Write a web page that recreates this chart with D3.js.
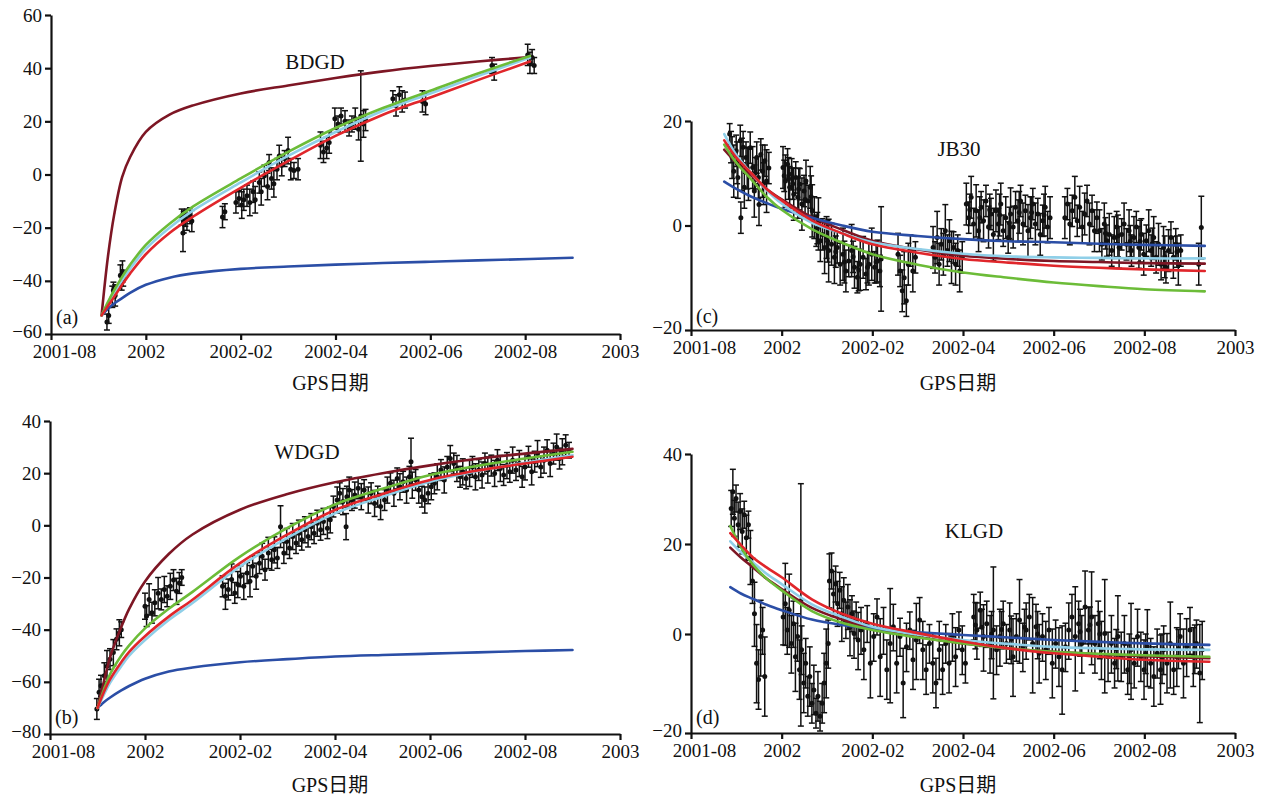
<!DOCTYPE html>
<html>
<head>
<meta charset="utf-8">
<script src="https://cdn.jsdelivr.net/npm/d3@7"></script>
<style>
  body { margin: 0; background: #fff; }
  svg text { font-family: "Liberation Serif", "Times New Roman", serif; fill: #111; }
</style>
</head>
<body>
<svg id="chart" width="1275" height="799"></svg>
<script>
// Time axis: one tick every 60 days, labelled as in the figure
const tickDays = [0, 60, 120, 180, 240, 300, 360];
const tickLabels = ["2001-08", "2002", "2002-02", "2002-04", "2002-06", "2002-08", "2003"];

// Model curves, drawn in this order
const modelNames = ["maroon", "blue", "lightblue", "green", "red"];
const modelColors = {
    maroon: "#7d1624", blue: "#2b4ea6", lightblue: "#8fcfe8", green: "#6cbc38", red: "#e0262b"
};

const serif = '"Liberation Serif", "Times New Roman", serif';

// ---- (a) BDGD ----
const bdgdCurveDays = [32, 36, 40, 45, 50, 60, 75, 90, 120, 150, 180, 210, 240, 270, 303, 330];
const bdgdCurves = {
    maroon:    [-53, -31, -15, -1, 6.5, 16, 22.5, 26, 30.5, 33.5, 36.3, 38.8, 40.8, 42.5, 44.2, null],
    blue:      [-53, -50.5, -48.5, -46.5, -44.5, -41.5, -38.8, -37.2, -35.5, -34.6, -33.9, -33.3, -32.8, -32.3, -31.8, -31.3],
    lightblue: [-53, -48.8, -44.6, -39.8, -35.5, -28, -20, -13.5, -3, 7, 16, 24, 30.5, 37, 44, null],
    green:     [-53, -48, -43.5, -38.5, -34, -26.5, -18.5, -12, -1.5, 8.5, 17.5, 25, 31.5, 38, 44.6, null],
    red:       [-53, -49.5, -46, -41.5, -37.3, -30, -22, -15.8, -5, 5, 14.5, 22.5, 29, 35.5, 42.5, null]
};
// observations: [day, value, error]
const bdgdObs = [
    [35.4,-55.5,3],[36.5,-53,3],[38.8,-46,4],[39.5,-43.5,3],[40.6,-45.5,4],[43.9,-38,4],[44.7,-40.5,3],[45.2,-36.5,4],[45.7,-39,3],
    [82.7,-16,3],[83.5,-22,7],[84,-18,4],[85,-16.5,3],[86,-17,4],[87.9,-15.5,3],[89.1,-17.5,4],
    [108.5,-16,4],[110,-14,3],
    [117,-10.5,4],[118.9,-9,3],[120.7,-11.5,5],[122,-9.5,4],[124,-8,4],[125.8,-10.5,5],[127.9,-6.5,4],[129.2,-9.5,5],
    [131.8,-3,4],[133,-6.5,5],[135,-0.5,4],[137,-4.5,5],[138,4.5,3],[139.5,-1.5,4],[141,-3.5,5],[143,2,4],
    [144.4,7,4],[146,3.5,4],[147.8,6,3],[150,9,5],[151.7,2,4],[153.7,1.5,3],[156.3,2,4],
    [170.5,11,5],[172.4,8.5,4],[174.4,10,4],[176,12,4],
    [179.6,21,4],[181.6,19,3],[183.5,22,3],[186,20,4],[188.6,17.5,3],[190.4,19,3],[192.5,21,4],[194.6,17,4],[196,22,17],[197.7,19,5],[199,20.5,4],
    [216.3,28.5,3],[218.3,26,4],[220.4,30,3],[222.2,27.5,4],[224,28,3],
    [235,27.5,4],[237,26.5,4],
    [279,41,3],[280.4,38.5,3],
    [301.6,45,4],[303,42,4],[304.4,44,3],[305.7,41,3]
];

// ---- (b) WDGD ----
const wdgdCurveDays = [30, 34, 38, 45, 50, 60, 75, 90, 120, 150, 180, 210, 240, 270, 300, 330];
const wdgdCurves = {
    maroon:    [-70, -60, -50.5, -39, -32, -21.5, -11, -3.5, 6, 12, 16.5, 20, 23, 25.5, 27.5, 29.3],
    blue:      [-70, -67.8, -66, -63.3, -61.6, -58.8, -56, -54.5, -52.5, -51.3, -50.3, -49.7, -49.2, -48.7, -48.2, -47.8],
    lightblue: [-70, -65, -60.3, -54, -50, -44, -36.3, -29.8, -15.8, -4.8, 4.6, 11, 16.7, 20.8, 24, 26.9],
    green:     [-70, -63, -57, -50, -46, -39.5, -32, -25.5, -12, -1, 8, 14, 19.3, 22.8, 25.6, 28.2],
    red:       [-70, -64, -59, -52.5, -48.5, -42.5, -35, -28.5, -14.5, -3.5, 5.9, 12, 17.4, 21, 23.7, 26.3]
};
const wdgdObs = [
    [29.6,-70.4,4],[31,-64,5],[32.2,-61.5,4],[34.3,-57.7,5],[36,-54,6],[37.9,-51.3,4],[40,-48.8,5],[42,-43.7,4],[43.8,-41.2,5],[45,-40,3],
    [60,-31,5],[61,-34.8,4],[62.6,-28.4,6],[64.4,-33.5,4],[66.2,-29.7,5],[68.3,-26,6],[70.3,-28.4,4],[72.2,-24.6,5],[74,-27.2,4],
    [76,-23.4,5],[78,-21,4],[79.9,-25.3,5],[81.7,-22.1,4],[83.2,-20,3],
    [109,-23.4,4],[110.8,-27.2,5],[112.6,-24.6,4],[114.7,-20.8,6],[116.7,-25.9,4],[118.6,-22.7,5],[120.3,-19.5,4],[122.4,-23.4,5],
    [124.5,-18.3,4],[126.3,-21.4,6],[128,-15.7,4],[130.2,-19.5,5],[132.3,-14.5,4],[134,-11.9,5],[135.8,-17,4],[137.9,-10.6,6],
    [140,-13.2,4],[141.7,-9.4,5],[143.6,-12.5,4],[145.6,-0.5,8],[147.7,-10.6,4],[149.5,-6.2,5],[151.3,-8.7,4],[153.3,-4.3,5],
    [155.4,-6.8,4],[157.2,-3,5],[159,-5.5,4],[161,-1.7,5],[163,-4.3,4],[165,-0.5,5],[166.8,-3,4],[168.8,0.8,5],[170.9,-1.7,4],
    [172.7,1.5,5],[175.2,-1.1,4],[177,2.1,5],
    [179,7.2,4],[181.4,9.7,5],[183,12.3,4],[185,9.1,5],[187,-0.5,5],[187.5,11,4],[189,13.5,5],[190.7,9.7,4],[192.5,11.6,5],
    [194.6,14.2,4],[196.6,11,5],[198.4,13.5,4],[201,9.7,5],[202.8,12.3,4],[205,8.4,5],[207,11,4],[208.8,7.2,5],[211.3,9.7,4],
    [213.1,13.5,5],[215,16.1,4],[217.2,12.3,5],[219.3,18,4],[221,14.8,5],[223,16.7,4],[225.2,13.5,5],[227,18.6,4],[228,24.4,9],
    [228.8,15.4,5],[230.9,17.4,4],[232.9,13.5,5],[234.9,11,4],[236.7,9.7,5],[238.8,12.3,4],[240.8,14.8,5],
    [242.8,16.1,4],[244.6,18.6,5],[246.9,21.2,4],[249,17.4,5],[250.9,22.4,4],[252.8,25.6,5],[255,23.7,4],[257,21.8,5],
    [259,18.6,4],[260.7,20.5,5],[262.8,18,4],[265,19.9,5],[266.8,22.4,4],[268.7,18.6,5],[270.8,21.2,4],[272.9,19.3,5],
    [274.7,23.7,4],[276.5,21.2,5],[278.7,22.9,4],[280.8,19.9,5],[282.6,25,4],[284.4,21.8,5],[286.5,19.3,4],[288.6,22.9,5],
    [290.4,20.5,4],[292.2,25,5],[294.3,21.2,4],[296.4,23.7,5],[298.2,18.6,4],[300,22.4,5],[302.2,26.3,4],[304.2,20.5,5],
    [306.1,24.4,4],[307.9,27.5,5],[310,22.4,4],[312,25,5],[314,28.8,4],[315.9,23.7,5],[318,27.5,4],[320,30,5],
    [321.8,25.6,4],[323.6,28.2,5],[325.7,30.7,4],[327.8,28.8,3]
];

// ---- (c) JB30 ----
const jb30CurveDays = [22, 30, 40, 50, 60, 80, 100, 120, 150, 180, 210, 240, 270, 300, 340];
const jb30Curves = {
    maroon:    [14.5, 12, 9.5, 7, 5, 1.6, -0.8, -2.9, -4.6, -5.8, -6.4, -6.8, -7, -7.2, -7.3],
    blue:      [8.4, 7, 5.5, 4.3, 3.2, 1.5, 0, -1.2, -2, -2.6, -3, -3.2, -3.5, -3.7, -3.9],
    lightblue: [17.5, 13.5, 10, 6.8, 4.2, 0.5, -1.5, -3.2, -4.5, -5.4, -5.9, -6.1, -6.2, -6.3, -6.3],
    green:     [15.5, 12, 8.8, 5.5, 3, -0.7, -3.3, -5.5, -7.5, -9, -10, -10.9, -11.6, -12.2, -12.6],
    red:       [16.3, 13, 10, 7, 4.8, 1, -1.5, -3.6, -5.2, -6.4, -7.1, -7.7, -8.1, -8.4, -8.7]
};
const jb30Obs = [
    [25.6,17.5,2],[26.5,15,3],[27.2,13,4],[28.3,10.4,5],[29.9,14.3,3],[30.5,12,4],[31,9.2,4],[32.6,16.2,3],[33.7,11.7,5],
    [34.5,15,3],[35.3,7.3,4],[36.4,13,3],[37.2,11,4],[38,9.8,5],[39.2,14.9,3],[40.8,11.1,4],[41.9,6.6,5],[42.5,10,3],
    [43.5,13,3],[44.6,9.2,4],[46.2,13.6,3],[47.3,10.4,5],[48,8,4],[48.9,12.4,3],[50,8.5,6],[51.5,11,3],[33,1.5,3],[45,4,4],
    [60.9,11.1,4],[61.7,9.5,3],[62.5,8.5,5],[63.9,11.7,3],[64.6,9,4],[65.3,7.3,4],[66.6,9.8,3],[67.3,8,3],[68,6,5],
    [69.3,9.2,3],[70.7,5.4,4],[71.3,7,4],[72,7.9,3],[73.4,4.1,5],[74.8,6.6,3],[75.5,5,3],[76.1,8.5,4],[77.5,4.7,3],
    [78.9,7.3,4],[79.5,5.5,4],[80.2,2.8,5],
    [81.6,1.5,4],[82.9,-1,3],[83.6,-0.5,3],[84.3,0.3,5],[85.6,-2.9,4],[87,-1.7,3],[88.4,-4.2,5],[89.7,-2.3,4],[90.4,-3,4],
    [91.1,-4.8,6],[93,-3.6,4],[94.9,-6.1,5],[95.8,-5,3],[96.8,-4.2,3],[98.7,-7.4,4],[100.6,-5.5,5],[101.5,-7,4],
    [102.5,-8.7,4],[104.4,-6.8,3],[106.3,-4.8,5],[107.3,-6,3],[108.2,-8,4],[110.1,-9.9,3],[111,-8.5,4],[112,-7.4,5],
    [113.9,-6.1,4],[115.8,-9.3,3],[116.8,-8,3],[117.7,-7.4,4],[119.6,-5.5,5],[121.5,-8,3],[122.5,-7,4],[123.4,-6.8,4],
    [125,-8.7,3],[125.8,-6.4,10],
    [137,-5.5,4],[138.4,-8.7,3],[139.8,-12.5,4],[141.1,-10,5],[142.5,-14.4,3],[143.8,-7.4,4],[145.2,-4.8,3],[146.8,-8.7,4],[148.5,-6.1,3],
    [160.2,-4.2,4],[161.5,-6.1,3],[162.9,-2.3,5],[164.2,-7.4,4],[165.6,-3.6,3],[167,-5.5,4],[168.3,-1,5],[169.7,-4.8,3],
    [171,-2.9,4],[172.4,-6.1,5],[173.7,-4.2,3],[175.1,-7.4,4],[176.5,-4.8,3],[177.8,-8.7,4],[179.5,-6.1,3],
    [182.2,4.1,4],[183.8,1.5,3],[184.5,3,3],[185.4,5.4,4],[187,0.3,3],[188.7,2.8,5],[190.3,-1,4],[191.1,1.5,4],[192,3.5,3],
    [193.6,0.9,4],[195.2,4.7,3],[196.9,-0.3,4],[197.7,3,3],[198.5,2.2,3],[200.1,-1.7,5],[201.8,2.8,4],[203.4,0.3,3],
    [204.2,2,4],[205,4.1,4],[206.6,-1,3],[208.3,1.5,4],[209.9,-2.3,3],[210.7,0.5,3],[211.5,2.2,5],[213.2,-0.3,4],
    [214.8,3.5,3],[216.4,0.9,4],[217.2,2.5,4],[218.1,4.7,3],[219.7,0.3,4],[221.3,2.8,3],[223,-1,5],[224.6,1.5,4],
    [225.4,2.5,3],[226.2,4.1,3],[227.9,0.3,4],[229.5,2.2,3],[231.1,-1.7,4],[232.8,0.9,3],[233.6,2,4],[234.4,3.5,4],
    [236,-0.3,3],[237.6,1.5,4],
    [247.4,1.5,4],[249.1,4.1,3],[250.7,0.3,4],[252.3,2.8,3],[254,5.4,4],[255.6,0.9,3],[257.2,3.5,4],[258.9,-0.3,3],
    [260.5,2.2,4],[262.1,4.7,3],[263.7,0.3,4],[265.4,2.8,3],[267,-1,4],[268.6,1.5,3],
    [270.3,-1,4],[271.9,-3.6,3],[273.5,0.3,4],[274.3,-1.5,3],[275.2,-2.9,3],[276.8,-1.7,4],[278.4,-4.8,3],[280.1,-2.3,4],
    [281.7,-0.3,3],[282.5,-2,4],[283.3,-4.2,4],[285,-1.7,3],[286.6,0.3,4],[288.2,-3.6,3],[289.9,-1,4],[290.7,-3,3],
    [291.5,-4.8,3],[293.1,-2.3,4],[294.7,-0.3,3],[296.4,-4.2,4],[297.2,-3,4],[298,-1.7,3],[299.6,-5.5,4],[301.3,-2.9,3],
    [302.9,-1,4],[304.5,-4.8,3],[305.3,-3.5,3],[306.2,-2.3,4],[307.8,-6.1,3],[309.4,-3.6,4],[311.1,-7.4,3],[312.7,-4.2,4],
    [313.5,-6,4],[314.3,-8,3],[316,-4.8,4],[317.6,-2.3,3],[319.2,-6.1,4],[320.8,-3.6,3],[321.6,-5,3],[322.5,-7.4,4],[324.1,-4.8,3],
    [337.7,-0.4,6],[336,-7.4,4]
];

// ---- (d) KLGD ----
const klgdCurveDays = [26, 33, 41, 50, 60, 80, 100, 120, 150, 180, 210, 240, 270, 300, 343];
const klgdCurves = {
    maroon:    [19.2, 17, 14.8, 12.3, 10, 5.8, 3.2, 1.2, -0.6, -1.9, -2.9, -3.6, -4.1, -4.5, -4.9],
    blue:      [10.4, 9, 7.8, 6.5, 5.3, 3.2, 2, 1.2, 0.4, -0.2, -0.7, -1.2, -1.6, -1.9, -2.2],
    lightblue: [20.6, 18.2, 15.9, 13.4, 11.1, 6.6, 3.8, 1.6, -0.1, -1.2, -2, -2.6, -2.9, -3.1, -3.2],
    green:     [24, 19.3, 15.4, 12.3, 9.7, 5.1, 2.5, 0.9, -0.7, -1.9, -2.9, -3.6, -4, -4.3, -4.6],
    red:       [22.4, 19.8, 17, 14.8, 12.6, 7.7, 4.5, 2.3, 0.2, -1.5, -2.9, -3.9, -4.6, -5.2, -5.6]
};
const klgdObs = [
    [26.6,27.9,4],[27.7,31.6,5],[28.7,25.7,4],[29.8,30.1,3],[31.2,24.3,5],[32.5,27.2,4],[33.9,22.8,5],[35.2,26.5,3],
    [36.6,21.4,5],[38,24.3,3],[39.3,17,6],[40.7,11.8,5],
    [42,4.5,7],[43.4,-5.9,8],[44.7,-9.2,6],[46.1,-0.5,8],[47.4,0.9,5],[48.8,-8.6,8],
    [61,3.8,6],[62.4,6.7,9],[63.7,0.9,5],[65,5.3,8],[66.4,-1.9,6],[67.8,2.3,5],[69.1,-4.6,7],[70.5,-0.5,5],[71.8,-7.2,6],
    [72.7,7.4,26],[73.2,-3.2,5],[74.6,-9.9,6],[75.9,-5.9,5],[77.3,-12.6,4],[78.6,-8.6,6],[80,-14,4],[81.3,-11.3,5],
    [82.7,-16,3],[84,-12.6,5],[85.4,-16.6,3],[86.8,-14,4],[88.1,-9.9,6],[89.5,-5.9,7],[90.8,-1.9,5],
    [91.6,11.8,6],[93,14,4],[94.3,8.9,5],[95.7,11.1,4],[97,6.7,5],[98.4,9.7,4],[99.8,4.5,6],[101.1,7.5,5],[102.5,3.1,4],
    [103.8,6,5],[105.2,1.6,6],[106.5,4.5,4],[107.9,0.1,5],[109.3,3.1,4],[110.6,-1.2,6],
    [112.5,0.9,5],[114.4,-3.2,6],[116.6,2.3,4],[118.7,-5.9,7],[120.9,-0.5,5],[123.1,3.8,4],[125.2,-4.6,8],[127.4,0.9,5],
    [129.6,-7.2,6],[131.8,-1.9,12],[133.9,1.6,5],[136.1,-5.9,6],[138.3,-0.5,4],[140.4,-9.9,7],[142.6,-2.6,5],[144.8,0.9,4],
    [146.9,-5.2,6],[149.1,-1.2,8],[151.3,3.1,5],[153.4,-3.2,6],[155.6,-7.2,5],[157.8,-1.9,4],[160,-5.9,6],[162.1,-9.9,5],
    [164.3,-3.2,6],[166.5,-7.2,5],[168.6,-1.9,4],[170.8,-5.9,6],[173,-0.5,5],[175.1,-4.6,6],[177.3,0.9,4],[179.5,-3.2,5],
    [181.6,-5.9,4],
    [187.1,3.8,5],[188.2,2,5],[189.2,0.9,6],[191.4,5.3,4],[192.5,1.5,4],[193.6,-0.5,7],[195.7,2.3,5],[197.9,-1.9,6],
    [198.9,0,5],[200.1,0.9,14],[202.2,-3.2,5],[204.4,-0.5,6],[205.5,1,4],[206.6,2.3,5],[208.7,-1.9,4],[210.9,0.9,6],
    [211.9,-1,5],[213.1,-4.6,8],[215.3,-0.5,5],[217.4,3.1,9],[219.6,-2.6,5],[220.7,1.5,4],[221.8,0.9,6],[223.9,3.8,5],
    [226.1,-1.9,10],[228.3,1.6,5],[229.4,0,5],[230.4,-3.9,6],[232.6,-0.5,5],[234.8,-3.2,6],[236.9,0.9,5],
    [239.1,-5.9,7],[241.3,-1.9,5],[243.5,-4.6,6],[245.6,-7.2,9],[247.8,-2.6,5],[250,0.9,6],[252.1,3.8,5],[254.3,-0.5,11],
    [256.5,2.3,5],[257.5,0.5,5],[258.6,-1.9,6],[260.8,6,8],[263,0.9,5],[264,2,4],[265.1,3.8,10],[267.3,-1.9,6],[269.5,2.3,5],
    [270.5,0,5],[271.6,-3.2,6],[273.8,0.1,12],[276,-4.6,5],[278.2,-1.9,6],[280.3,-5.9,5],[281.4,-3,4],[282.5,-0.5,9],
    [284.7,-4.6,5],[286.8,-1.9,6],[289,-7.2,5],[290.1,-5,5],[291.2,-3.2,10],[293.3,-5.9,5],[295.5,-0.5,6],[297.7,-4.6,5],
    [299.8,-7.2,6],[300.9,-4,4],[302,-2.6,8],[304.2,-5.9,5],[306.3,-8.6,6],[308.5,-3.9,5],[310.7,-7.2,7],[311.7,-5,5],
    [312.8,-3.2,5],[315,-5.9,6],[317.2,-1.9,9],[319.4,-7.2,5],[321.5,-4.6,6],[322.6,-3,4],[323.7,-0.5,5],
    [325.9,-5.9,7],[328,-2.6,6],[330.2,0.9,5],[332.4,-4.6,6],[333.4,-3,5],[334.5,-1.9,5],[336.7,-7.9,10],[338.3,-3.2,6]
];

// Panel layout (pixels) and axes
const panels = [
    { obs: bdgdObs, days: bdgdCurveDays, curves: bdgdCurves, name: "BDGD", tag: "(a)",
      x0: 51, x1: 620, yDomain: [-60, 60], yRange: [334, 15], yTicks: [-60, -40, -20, 0, 20, 40, 60],
      title: [315, 62], tagPos: [56, 317], xlabelY: 390 },
    { obs: wdgdObs, days: wdgdCurveDays, curves: wdgdCurves, name: "WDGD", tag: "(b)",
      x0: 50, x1: 620, yDomain: [-80, 40], yRange: [734, 421], yTicks: [-80, -60, -40, -20, 0, 20, 40],
      title: [307, 452], tagPos: [55, 717], xlabelY: 792 },
    { obs: jb30Obs, days: jb30CurveDays, curves: jb30Curves, name: "JB30", tag: "(c)",
      x0: 691, x1: 1235, yDomain: [-20, 20], yRange: [330, 121], yTicks: [-20, 0, 20],
      title: [959, 149], tagPos: [696, 316], xlabelY: 390 },
    { obs: klgdObs, days: klgdCurveDays, curves: klgdCurves, name: "KLGD", tag: "(d)",
      x0: 691, x1: 1235, yDomain: [-20, 0, 40], yRange: [733, 634, 454], yTicks: [-20, 0, 20, 40],
      title: [974, 531], tagPos: [696, 717], xlabelY: 792 }
];

const svg = d3.select("#chart");

function drawPanel(p) {
    const g = svg.append("g");
    const x = d3.scaleLinear().domain([0, 360]).range([p.x0, p.x1]);
    const y = d3.scaleLinear().domain(p.yDomain).range(p.yRange);
    const yBottom = p.yRange[0];

    // error bars with caps, and the point itself
    const bars = g.append("g").attr("stroke", "#111").attr("stroke-width", 1.5);
    bars.selectAll(".bar").data(p.obs).enter().append("line")
        .attr("x1", d => x(d[0])).attr("x2", d => x(d[0]))
        .attr("y1", d => y(d[1] - d[2])).attr("y2", d => y(d[1] + d[2]));
    bars.selectAll(".capT").data(p.obs).enter().append("line")
        .attr("x1", d => x(d[0]) - 3).attr("x2", d => x(d[0]) + 3)
        .attr("y1", d => y(d[1] + d[2])).attr("y2", d => y(d[1] + d[2]));
    bars.selectAll(".capB").data(p.obs).enter().append("line")
        .attr("x1", d => x(d[0]) - 3).attr("x2", d => x(d[0]) + 3)
        .attr("y1", d => y(d[1] - d[2])).attr("y2", d => y(d[1] - d[2]));
    g.append("g").selectAll("circle").data(p.obs).enter().append("circle")
        .attr("cx", d => x(d[0])).attr("cy", d => y(d[1])).attr("r", 2.5).attr("fill", "#111");

    // model curves
    modelNames.forEach(m => {
        const pts = p.days.map((d, i) => [d, p.curves[m][i]]);
        const line = d3.line()
            .defined(d => d[1] !== null)
            .x(d => x(d[0])).y(d => y(d[1]))
            .curve(d3.curveCatmullRom.alpha(0.5));
        g.append("path").datum(pts)
            .attr("fill", "none").attr("stroke", modelColors[m])
            .attr("stroke-width", 2.6).attr("stroke-linecap", "round").attr("d", line);
    });

    // axes
    const xAxis = g.append("g").attr("transform", `translate(0,${yBottom})`)
        .call(d3.axisBottom(x).tickValues(tickDays).tickFormat((d, i) => tickLabels[i])
            .tickSize(6).tickSizeOuter(0).tickPadding(5));
    const yAxis = g.append("g").attr("transform", `translate(${p.x0},0)`)
        .call(d3.axisLeft(y).tickValues(p.yTicks).tickSize(6).tickSizeOuter(0).tickPadding(3));
    [xAxis, yAxis].forEach(a => {
        a.attr("font-family", serif).attr("font-size", 19);
        a.selectAll("path, line").attr("stroke", "#111").attr("stroke-width", 2.2);
        a.selectAll("text").attr("fill", "#111").style("font-family", serif).style("font-size", "19px");
    });
    xAxis.select(".tick text").attr("dx", 13);
    // lift the lowest y label a little so it clears the date labels
    yAxis.select(".tick text").attr("dy", "0.2em");

    // texts
    g.append("text").attr("x", p.title[0]).attr("y", p.title[1]).attr("dy", "0.35em")
        .attr("text-anchor", "middle").attr("font-size", 21).text(p.name);
    g.append("text").attr("x", p.tagPos[0]).attr("y", p.tagPos[1]).attr("dy", "0.35em")
        .attr("font-size", 20).text(p.tag);
    g.append("text").attr("x", (p.x0 + p.x1) / 2 - 5).attr("y", p.xlabelY)
        .attr("text-anchor", "middle").attr("font-size", 20)
        .html('GPS<tspan style="font-family:\'Noto Sans CJK SC\'">日期</tspan>');
}

panels.forEach(drawPanel);
</script>
</body>
</html>
